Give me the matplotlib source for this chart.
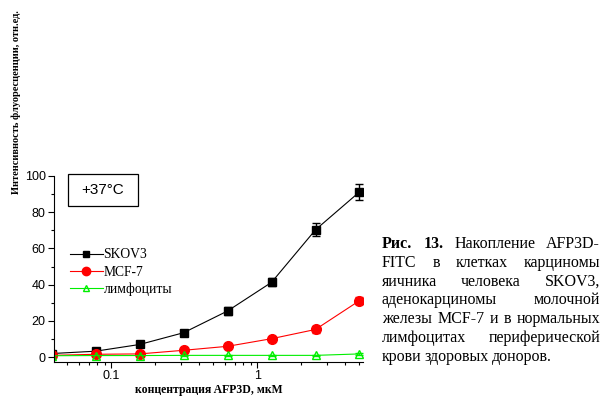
import matplotlib
matplotlib.use('Agg')
import matplotlib.pyplot as plt
from matplotlib.ticker import FixedLocator, NullFormatter, MultipleLocator
from matplotlib.patches import Rectangle
from matplotlib.lines import Line2D

# concentrations (two-fold dilution), mkM
conc = [0.039, 0.078, 0.156, 0.3125, 0.625, 1.25, 2.5, 5.0]

skov3 = [2.0, 3.3, 7.0, 13.5, 25.5, 41.3, 70.3, 91.2]
skov3_err = [0.8, 0.8, 1.0, 1.5, 2.2, 2.2, 3.6, 4.3]

mcf7 = [1.0, 1.6, 1.8, 3.8, 6.0, 10.2, 15.3, 31.2]
mcf7_err = [0.5, 0.6, 0.8, 0.8, 0.8, 0.9, 2.0, 2.0]

lymph = [0.8, 0.9, 0.9, 1.0, 1.0, 1.0, 1.0, 1.8]
lymph_err = [0.3, 0.3, 0.3, 0.3, 0.3, 0.3, 0.3, 0.5]

series_names = ['SKOV3', 'MCF-7', 'лимфоциты']
y_ticks = [0, 20, 40, 60, 80, 100]

caption_lines = [
    ['Рис.', '13.', 'Накопление', 'AFP3D-'],
    ['FITC', 'в', 'клетках', 'карциномы'],
    ['яичника', 'человека', 'SKOV3,'],
    ['аденокарциномы', 'молочной'],
    ['железы', 'MCF-7', 'и', 'в', 'нормальных'],
    ['лимфоцитах', 'периферической'],
    ['крови', 'здоровых', 'доноров.'],
]

plt.rcParams['font.family'] = 'Liberation Serif'

fig = plt.figure(figsize=(6.11, 3.99), dpi=100)
ax = fig.add_axes([0.0884, 0.093, 0.506, 0.466])

kw = dict(lw=0.8, capsize=3, elinewidth=1.0, capthick=1.0)
ax.errorbar(conc, skov3, yerr=skov3_err, color='black', marker='s', ms=6, **kw)
ax.errorbar(conc, mcf7, yerr=mcf7_err, color='#ff0000', ecolor='#ff0000', marker='o',
            ms=7, **kw)
ax.errorbar(conc, lymph, yerr=lymph_err, color='#00ee00', ecolor='#00ee00', marker='^',
            ms=6, mfc='none', mew=1.0, **kw)

ax.set_xscale('log')
ax.set_xlim(0.0405, 5.3)
ax.set_ylim(-2.6, 100)

ax.xaxis.set_major_locator(FixedLocator([0.1, 1]))
ax.set_xticklabels(['0.1', '1'])
ax.xaxis.set_minor_locator(FixedLocator([0.05, 0.06, 0.07, 0.08, 0.09,
                                         0.2, 0.3, 0.4, 0.5, 0.6, 0.7, 0.8, 0.9,
                                         2, 3, 4, 5]))
ax.xaxis.set_minor_formatter(NullFormatter())
ax.set_yticks(y_ticks)
ax.yaxis.set_minor_locator(MultipleLocator(10))

for lbl in ax.get_xticklabels() + ax.get_yticklabels():
    lbl.set_family('Liberation Sans')
    lbl.set_fontsize(9)

ax.tick_params(which='major', direction='out', length=4, width=0.8, pad=2)
ax.tick_params(which='minor', direction='out', length=2.5, width=0.8)
ax.spines['top'].set_visible(False)
ax.spines['right'].set_visible(False)
ax.spines['left'].set_linewidth(0.8)
ax.spines['bottom'].set_linewidth(0.8)

ax.set_xlabel('концентрация AFP3D, мкМ', fontsize=8.5, fontweight='bold', labelpad=1)
fig.text(0.026, 0.744, 'Интенсивность флуоресценции, отн.ед.', rotation=90,
         fontsize=7.5, fontweight='bold', ha='center', va='center')

# temperature box
fig.patches.append(Rectangle((68 / 611, 1 - 206 / 399), 70 / 611, 32 / 399,
                             transform=fig.transFigure, fill=False, lw=0.9,
                             edgecolor='black'))
fig.text(103 / 611, 1 - 190 / 399, '+37°C', family='Liberation Sans', fontsize=11,
         ha='center', va='center')

# legend
handles = [
    Line2D([], [], color='black', lw=0.8, marker='s', ms=4),
    Line2D([], [], color='#ff0000', lw=0.8, marker='o', ms=6),
    Line2D([], [], color='#00ee00', lw=0.8, marker='^', ms=5, mfc='none', mew=1.0),
]
leg = ax.legend(handles, series_names, loc='upper left', bbox_to_anchor=(0.052, 0.61),
                frameon=False, fontsize=9.8, handlelength=2.4, handletextpad=0.05,
                labelspacing=0.3, borderpad=0, borderaxespad=0)

# caption, justified
left_px, right_px = 382, 600
top_px, step_px = 244, 18.8
fig.canvas.draw()
renderer = fig.canvas.get_renderer()
for i, words in enumerate(caption_lines):
    y = 1 - (top_px + i * step_px) / 399
    texts = []
    for w in words:
        bold = (i == 0 and w in ('Рис.', '13.'))
        t = fig.text(0, y, w, fontsize=11.5, va='center', ha='left',
                     fontweight='bold' if bold else 'normal')
        texts.append(t)
    widths = [t.get_window_extent(renderer).width for t in texts]
    if i == len(caption_lines) - 1 or len(words) == 1:
        gap = renderer.points_to_pixels(11.5) * 0.2
    else:
        gap = (right_px - left_px - sum(widths)) / (len(words) - 1)
    x = left_px
    for t, w in zip(texts, widths):
        t.set_x(x / 611)
        x += w + gap

fig.savefig('out.png', dpi=100)
